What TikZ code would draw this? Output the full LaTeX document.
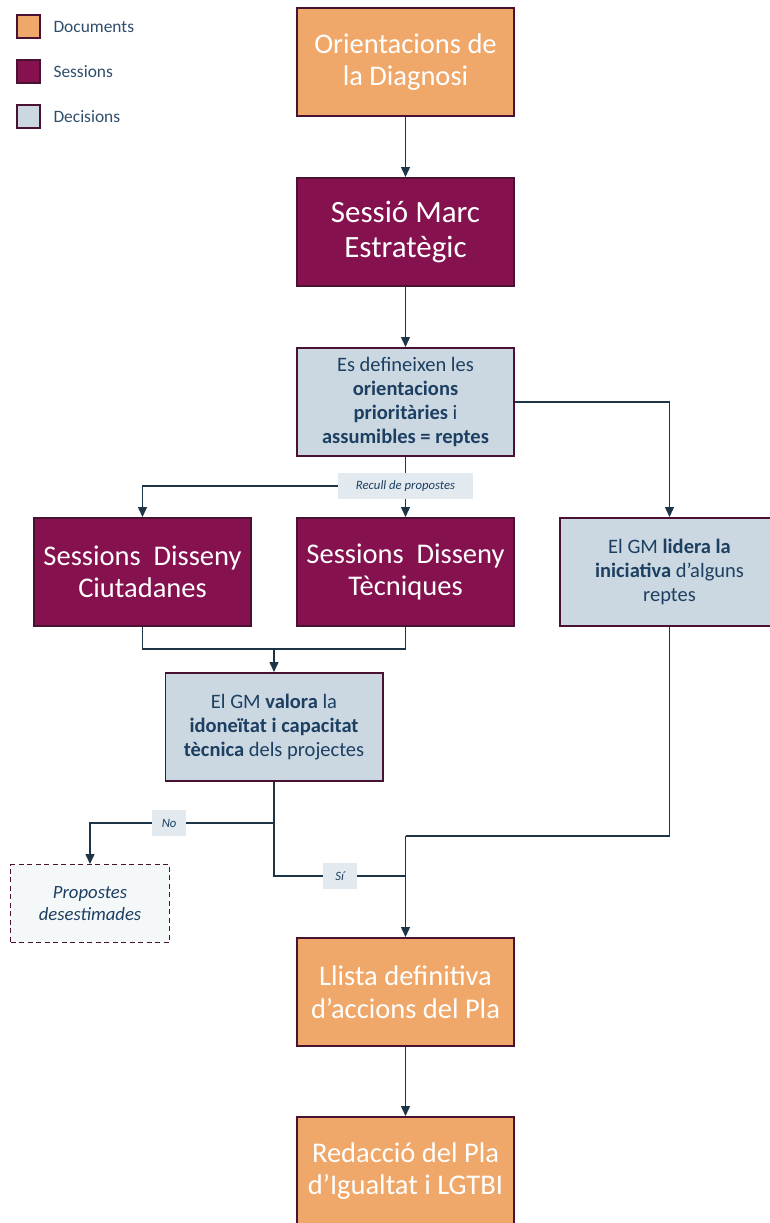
\documentclass[tikz,border=0pt]{standalone}
\usepackage{fontspec}
\setmainfont{Carlito}
\usepackage{xcolor}
\usetikzlibrary{positioning,arrows.meta,calc}

\definecolor{docfill}{HTML}{F0A86A}
\definecolor{sessfill}{HTML}{85114F}
\definecolor{decfill}{HTML}{CBD8E1}
\definecolor{boxline}{HTML}{4A1232}
\definecolor{linecol}{HTML}{1E3447}
\definecolor{dectext}{HTML}{1C3F62}
\definecolor{lblfill}{HTML}{E3EAEF}
\definecolor{legtext}{HTML}{2E4D6B}

\begin{document}
\begin{tikzpicture}[
	x=1pt, y=1pt,
	node distance=60pt,
	doc/.style={
		align=center,
		rectangle,
		draw=boxline,
		line width=1.6pt,
		fill=docfill,
		text=white,
		minimum width=217.4pt,
		minimum height=108.4pt,
		font=\fontsize{28.5}{32.5}\selectfont
	},
	sess/.style={
		doc,
		fill=sessfill
	},
	dec/.style={
		doc,
		fill=decfill,
		text=dectext,
		font=\fontsize{20.5}{24}\selectfont
	},
	legbox/.style={
		rectangle,
		draw=boxline,
		line width=1.6pt,
		minimum size=23.4pt
	},
	legtxt/.style={
		text=legtext,
		font=\fontsize{17.4}{20}\selectfont
	},
	lbl/.style={
		rectangle,
		fill=lblfill,
		text=dectext,
		inner sep=0pt,
		minimum width=34pt,
		minimum height=26pt,
		font=\fontsize{12.7}{15}\selectfont\itshape
	},
	conn/.style={
		draw=linecol,
		line width=1.4pt
	},
	line/.style={
		conn,
		-{Triangle[width=9pt,length=10pt]}
	}
	]
	\useasboundingbox (0,0) rectangle (770,-1223);

	% legend
	\node (leg_doc) [legbox, fill=docfill] at (28.5,-26.5) {};
	\node (leg_sess) [legbox, fill=sessfill, below=20pt of leg_doc] {};
	\node (leg_dec) [legbox, fill=decfill, below=20pt of leg_sess] {};
	\node (leg_doc_txt) [legtxt, right=9pt of leg_doc] {Documents};
	\node (leg_sess_txt) [legtxt, right=9pt of leg_sess] {Sessions};
	\node (leg_dec_txt) [legtxt, right=9pt of leg_dec] {Decisions};

	% main column
	\node (orient) [doc] at (405.5,-62) {Orientacions de\\la Diagnosi};
	\node (marc) [sess, below=of orient, font=\fontsize{31}{35}\selectfont] {Sessió Marc\\Estratègic};
	\node (defin) [dec, below=of marc] {Es defineixen les\\\textbf{orientacions}\\\textbf{prioritàries} i\\\textbf{assumibles = reptes}};
	\draw[line] (orient) -- (marc);
	\draw[line] (marc) -- (defin);

	% design sessions
	\node (tec) [sess, below=of defin] {Sessions\ \ Disseny\\Tècniques};
	\node (ciut) [sess, left=44pt of tec] {Sessions\ \ Disseny\\Ciutadanes};
	\node (lidera) [dec, right=44pt of tec, minimum width=219.4pt] {El GM \textbf{lidera la}\\\textbf{iniciativa} d’alguns\\reptes};
	\coordinate (recull) at ($(defin.south)+(0,-29)$);
	\draw[conn] (defin.south) -- (recull);
	\draw[line] (recull) -- (tec);
	\draw[line] (recull) -| (ciut);
	\draw[line] (defin.east) -| (lidera);
	\node (recull_lbl) [lbl, minimum width=135pt] at (recull) {Recull de propostes};

	% assessment
	\coordinate (join_sess) at ($(ciut.south)!0.5!(tec.south)+(0,-22)$);
	\node (valora) [dec, below=23pt of join_sess] {El GM \textbf{valora} la\\\textbf{idoneïtat i capacitat}\\\textbf{tècnica} dels projectes};
	\draw[conn] (ciut.south) |- (join_sess) -| (tec.south);
	\draw[line] (join_sess) -- (valora);

	\node (desest) [rectangle, draw=boxline, dash pattern=on 5pt off 3.5pt, line width=1.2pt, fill=lblfill!35, text=dectext,
		minimum width=158.8pt, minimum height=77.8pt, align=center,
		font=\fontsize{18.7}{22}\selectfont\itshape] at (90,-903.5) {Propostes\\desestimades};

	% final documents
	\node (llista) [doc, below=310pt of tec] {Llista definitiva\\d’accions del Pla};
	\node (redac) [doc, below=69pt of llista] {Redacció del Pla\\d’Igualtat i LGTBI};

	\coordinate (split_no) at ($(valora.south)+(0,-41)$);
	\coordinate (split_si) at ($(valora.south)+(0,-94)$);
	\coordinate (merge_si) at (llista.north |- split_si);
	\coordinate (merge_top) at ($(lidera.south)+(0,-209)$);
	\draw[conn] (valora.south) -- (split_si) -- node[lbl]{Sí} (merge_si);
	\draw[line] (split_no) -| node[lbl, pos=0.285]{No} (desest);
	\draw[conn] (lidera.south) |- (merge_top -| llista.north);
	\draw[line] (merge_top -| llista.north) -- (llista);
	\draw[line] (llista) -- (redac);

\end{tikzpicture}
\end{document}
